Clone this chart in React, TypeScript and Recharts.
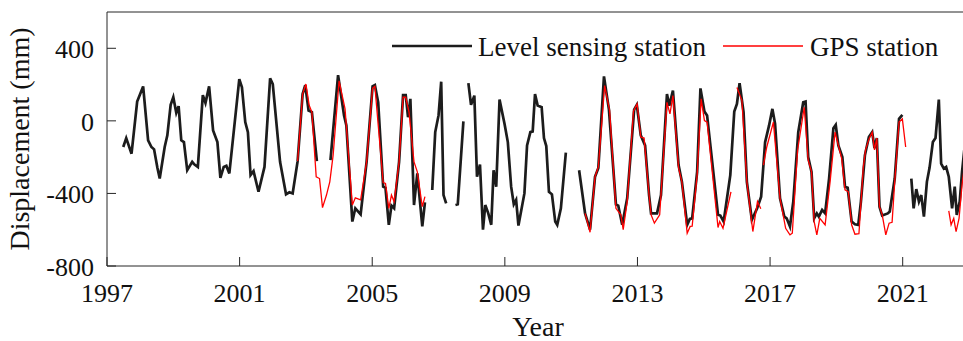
import { Label, Legend, Line, LineChart, XAxis, YAxis } from "recharts";

const yearTicks = [1997, 2001, 2005, 2009, 2013, 2017, 2021];
const mmTicks = [-800, -400, 0, 400];

// level sensing station (null = gap in record)
const levelYears = [
  1997.49, 1997.58, 1997.74, 1997.91, 1998.09, 1998.24, 1998.34, 1998.42, 1998.52, 1998.59,
  1998.74, 1998.82, 1998.92, 1999.0, 1999.09, 1999.16, 1999.24, 1999.32, 1999.42, 1999.57,
  1999.64, 1999.74, 1999.89, 1999.97, 2000.08, 2000.2, 2000.33, 2000.42, 2000.52, 2000.6,
  2000.69, 2000.99, 2001.07, 2001.17, 2001.25, 2001.33, 2001.42, 2001.57, 2001.75, 2001.92,
  2002.0, 2002.22, 2002.4, 2002.5, 2002.6, 2002.75, 2002.9, 2002.98, 2003.08, 2003.18,
  2003.33, 2003.5,
  2003.74, 2003.97, 2004.15, 2004.22, 2004.4, 2004.49, 2004.65, 2004.83, 2005.01, 2005.08,
  2005.18, 2005.33, 2005.4, 2005.5, 2005.58, 2005.66, 2005.81, 2005.93, 2006.01, 2006.08,
  2006.15, 2006.26, 2006.36, 2006.51, 2006.59, 2006.7,
  2006.81, 2006.9, 2007.0, 2007.08, 2007.15, 2007.23, 2007.4,
  2007.51, 2007.58, 2007.75, 2007.82,
  2007.9, 2007.98, 2008.08, 2008.16, 2008.25, 2008.34, 2008.41, 2008.5, 2008.59, 2008.66,
  2008.74, 2008.84, 2008.99, 2009.09, 2009.19, 2009.27, 2009.34, 2009.41, 2009.59, 2009.67,
  2009.77, 2009.84, 2009.91, 2009.99, 2010.11, 2010.18, 2010.25, 2010.33, 2010.42, 2010.52,
  2010.58, 2010.69, 2010.84, 2011.0,
  2011.24, 2011.42, 2011.57, 2011.72, 2011.82, 2011.99, 2012.14, 2012.35, 2012.42, 2012.54,
  2012.69, 2012.9, 2012.98, 2013.1, 2013.23, 2013.35, 2013.41, 2013.59, 2013.71, 2013.89,
  2013.96, 2014.07, 2014.24, 2014.34, 2014.5, 2014.58, 2014.65, 2014.8, 2014.9, 2015.02,
  2015.1, 2015.43, 2015.5, 2015.6, 2015.8, 2015.92, 2016.0, 2016.08, 2016.2, 2016.3,
  2016.45, 2016.61, 2016.73, 2016.85, 2016.97, 2017.07, 2017.15, 2017.3, 2017.43, 2017.5,
  2017.6, 2017.7, 2017.85, 2018.0, 2018.07, 2018.15, 2018.25, 2018.33, 2018.41, 2018.47,
  2018.57, 2018.66, 2018.78, 2018.91, 2018.98, 2019.06, 2019.18, 2019.26, 2019.34, 2019.46,
  2019.56, 2019.66, 2019.74, 2019.86, 2019.98, 2020.08, 2020.15, 2020.22, 2020.3, 2020.38,
  2020.55, 2020.61, 2020.76, 2020.89, 2020.99, 2021.1,
  2021.26, 2021.33, 2021.41, 2021.49, 2021.56, 2021.64, 2021.73, 2021.81, 2021.91, 2021.99,
  2022.09, 2022.16, 2022.24, 2022.31, 2022.39, 2022.49, 2022.57, 2022.63, 2022.72, 2022.79,
  2022.88,
];
const levelMm = [
  -144, -95, -181, 106, 190, -107, -144, -157, -259, -318,
  -144, -80, 88, 130, 44, 81, -107, -117, -272, -226,
  -241, -254, 142, 99, 190, -53, -117, -314, -254, -248,
  -290, 230, 185, -7, -62, -299, -277, -391, -254, 234,
  203, -226, -405, -394, -400, -222, 148, 197, 57, 48,
  -222, null,
  -217, 252, 30, -25, -555, -482, -515, -226, 190, 197,
  102, -363, -369, -573, -467, -482, -226, 142, 142, 20,
  121, -464, -290, -582, -449, null,
  -381, -62, 30, 216, -409, -455, null,
  -464, -460, -3, null,
  208, 88, 139, -308, -241, -600, -464, -510, -573, -272,
  -363, 117, -16, -117, -363, -460, -436, -577, -400, -135,
  -62, -58, 148, 84, 75, -95, -139, -391, -405, -555,
  -573, -482, -175, null,
  -272, -510, -600, -308, -259, 245, 62, -460, -467, -573,
  -427, 62, 88, -80, -135, -409, -510, -510, -409, 148,
  84, 167, -244, -336, -573, -540, -537, -281, 179, 52,
  30, -518, -522, -555, -299, 52, 93, 208, 48, -336,
  -546, -482, -418, -117, -25, 66, -16, -427, -528, -537,
  -582, -445, -62, 102, 106, -199, -281, -537, -510, -528,
  -491, -510, -318, -40, -22, -135, -199, -363, -369, -555,
  -570, -573, -445, -190, -89, -62, -150, -95, -473, -522,
  -510, -500, -318, 11, 33, null,
  -318, -482, -376, -445, -409, -528, -336, -259, -117, -95,
  117, -236, -263, -254, -308, -482, -363, -518, -445, -281,
  -120,
];

// GPS station
const gpsYears = [
  2002.75, 2002.9, 2003.0, 2003.1, 2003.18, 2003.31, 2003.41, 2003.5, 2003.62, 2003.72,
  2003.82, 2004.0, 2004.18, 2004.4, 2004.49, 2004.65, 2004.83, 2005.01, 2005.08, 2005.33,
  2005.4, 2005.5, 2005.58, 2005.66, 2005.81, 2005.93, 2006.01, 2006.11, 2006.26, 2006.36,
  2006.51, 2006.59, 2006.7,
  2011.42, 2011.57, 2011.72, 2011.82, 2012.01, 2012.16, 2012.35, 2012.5, 2012.57, 2012.69,
  2012.88, 2012.99, 2013.1, 2013.2, 2013.35, 2013.41, 2013.51, 2013.67, 2013.89, 2013.98,
  2014.07, 2014.24, 2014.34, 2014.5, 2014.59, 2014.65, 2014.8, 2014.92, 2015.02, 2015.1,
  2015.43, 2015.48, 2015.58, 2015.82, 2015.9,
  2016.0, 2016.15, 2016.3, 2016.48, 2016.62, 2016.72, 2016.76,
  2016.8, 2016.9, 2017.1, 2017.3, 2017.47, 2017.6, 2017.67, 2017.83, 2018.03, 2018.15,
  2018.25, 2018.33, 2018.41, 2018.5, 2018.66, 2018.81, 2018.96, 2019.16, 2019.26, 2019.36,
  2019.46, 2019.56, 2019.68, 2019.81, 2019.88, 2019.98, 2020.08, 2020.15, 2020.22, 2020.3,
  2020.38, 2020.49, 2020.59, 2020.68, 2020.76, 2020.89, 2020.99, 2021.09, 2021.2,
  2022.39, 2022.46, 2022.54, 2022.61, 2022.7, 2022.79, 2022.88,
];
const gpsMm = [
  -222, 148, 203, 84, 48, -308, -318, -478, -409, -336,
  -190, 221, 66, -464, -424, -436, -226, 179, 190, -340,
  -345, -482, -409, -445, -226, 130, 130, 48, -226, -281,
  -473, -418, null,
  -510, -614, -308, -254, 194, 57, -482, -518, -600, -445,
  53, 93, -89, -95, -409, -517, -564, -518, 102, 38,
  139, -259, -336, -619, -582, -581, -299, 121, 2, -7,
  -588, -555, -592, -391, null,
  184, 113, -336, -610, -445, -485, null,
  -244, -144, -7, -427, -592, -628, -619, -162, 75, -217,
  -281, -555, -628, -537, -573, -336, -62, -208, -380, -391,
  -573, -625, -622, -259, -160, -102, -62, -160, -95, -473,
  -515, -628, -564, -559, -336, -7, 11, -144, null,
  -496, -573, -537, -610, -537, -354, -220,
];

const levelData = levelYears.map((year, i) => ({ year, mm: levelMm[i] }));
const gpsData = gpsYears.map((year, i) => ({ year, mm: gpsMm[i] }));

const FONT = "'Liberation Serif', 'Times New Roman', serif";
const AXIS = "#262626";
const TEXT = "#111111";

function YearTick(props: any) {
  const { x, y, payload } = props;
  return (
    <text x={x} y={y} textAnchor="middle" fontFamily={FONT} fontSize={26} fill={TEXT}>
      {payload.value}
    </text>
  );
}

function MmTick(props: any) {
  const { x, y, payload } = props;
  return (
    <text x={x} y={y} dy={10} textAnchor="end" fontFamily={FONT} fontSize={26} fill={TEXT}>
      {payload.value}
    </text>
  );
}

const legendSlots: Record<string, { x1: number; x2: number; tx: number; w: number }> = {
  "Level sensing station": { x1: 392, x2: 472, tx: 478, w: 2.7 },
  "GPS station": { x1: 723, x2: 803, tx: 810, w: 1.3 },
};

function renderLegend(props: any) {
  const items = props.payload || [];
  return (
    <svg
      width={963}
      height={70}
      style={{ position: "absolute", left: 0, top: 0, overflow: "visible" }}
    >
      {items.map((entry: any) => {
        const slot = legendSlots[entry.value];
        if (!slot) return null;
        return (
          <g key={entry.value}>
            <line
              x1={slot.x1}
              x2={slot.x2}
              y1={46}
              y2={46}
              stroke={entry.color}
              strokeWidth={slot.w}
            />
            <text x={slot.tx} y={56} fontFamily={FONT} fontSize={27} fill={TEXT}>
              {entry.value}
            </text>
          </g>
        );
      })}
    </svg>
  );
}

function YLabel(props: any) {
  const { x, y, height } = props.viewBox;
  return (
    <text
      transform={`translate(${x + 29},${y + height / 2}) rotate(-90)`}
      textAnchor="middle"
      fontFamily={FONT}
      fontSize={28}
      fill={TEXT}
    >
      Displacement (mm)
    </text>
  );
}

function XLabel(props: any) {
  const { x, y, width } = props.viewBox;
  return (
    <text x={x + width / 2} y={y + 70} textAnchor="middle" fontFamily={FONT} fontSize={28} fill={TEXT}>
      Year
    </text>
  );
}

export default function App() {
  return (
    <div style={{ width: 963, height: 341, overflow: "hidden", position: "relative", background: "#fff" }}>
      <style>{"body{margin:0;background:#fff}"}</style>
      <LineChart
        width={975}
        height={341}
        margin={{ top: 11, right: 5, bottom: 0, left: 0 }}
      >
        <XAxis
          type="number"
          dataKey="year"
          domain={[1997, 2023]}
          ticks={yearTicks}
          allowDataOverflow
          height={75}
          stroke={AXIS}
          tickSize={-9}
          tickMargin={45}
          tick={<YearTick />}
        >
          <Label content={<XLabel />} />
        </XAxis>
        <XAxis
          xAxisId="top"
          orientation="top"
          type="number"
          dataKey="year"
          domain={[1997, 2023]}
          ticks={yearTicks}
          allowDataOverflow
          height={1}
          stroke={AXIS}
          tickSize={-9}
          tick={false}
        />
        <YAxis
          type="number"
          domain={[-800, 600]}
          ticks={mmTicks}
          allowDataOverflow
          width={107}
          stroke={AXIS}
          tickSize={-9}
          tickMargin={22}
          tick={<MmTick />}
        >
          <Label content={<YLabel />} />
        </YAxis>
        <YAxis
          yAxisId="right"
          orientation="right"
          type="number"
          domain={[-800, 600]}
          ticks={mmTicks}
          allowDataOverflow
          width={1}
          stroke={AXIS}
          tickSize={-9}
          tick={false}
        />
        <Legend content={renderLegend} wrapperStyle={{ left: 0, top: 0, height: 0, width: 963 }} />
        <Line
          data={levelData}
          dataKey="mm"
          name="Level sensing station"
          stroke="#1c1c1c"
          strokeWidth={2.7}
          dot={false}
          activeDot={false}
          connectNulls={false}
          isAnimationActive={false}
        />
        <Line
          data={gpsData}
          dataKey="mm"
          name="GPS station"
          stroke="#ff0000"
          strokeWidth={1.3}
          dot={false}
          activeDot={false}
          connectNulls={false}
          isAnimationActive={false}
        />
      </LineChart>
    </div>
  );
}
